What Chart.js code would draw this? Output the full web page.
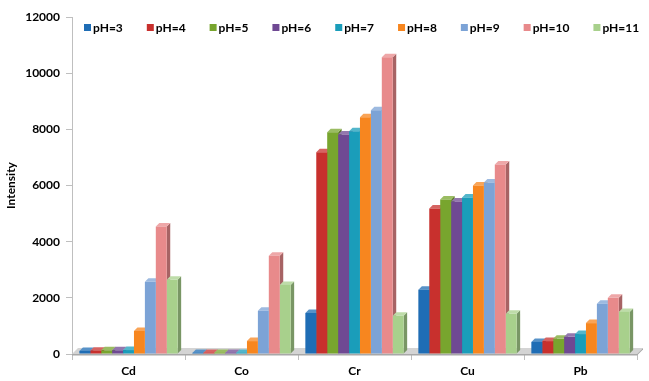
<!DOCTYPE html>
<html>
<head>
<meta charset="utf-8">
<script src="https://cdn.jsdelivr.net/npm/chart.js@4.4.0/dist/chart.umd.min.js"></script>
<style>
  body { margin: 0; background: #fff; }
  #contenedor { width: 649px; height: 381px; }
</style>
</head>
<body>
<div id="contenedor"><canvas id="grafica" width="649" height="381"></canvas></div>
<script>
// Metales (categorias del eje x)
var metales = ['Cd', 'Co', 'Cr', 'Cu', 'Pb'];
// Etiquetas de las series
var etiquetasPH = ['pH=3', 'pH=4', 'pH=5', 'pH=6', 'pH=7', 'pH=8', 'pH=9', 'pH=10', 'pH=11'];
// Intensidad por metal para cada pH
var ph3 = [110, 40, 1460, 2290, 430];
var ph4 = [120, 40, 7180, 5180, 460];
var ph5 = [130, 40, 7900, 5500, 540];
var ph6 = [130, 40, 7820, 5430, 610];
var ph7 = [140, 40, 7930, 5570, 710];
var ph8 = [820, 460, 8430, 6000, 1100];
var ph9 = [2570, 1540, 8680, 6110, 1790];
var ph10 = [4540, 3500, 10570, 6750, 2000];
var ph11 = [2640, 2460, 1360, 1430, 1500];
// Marcas del eje y
var marcasY = [0, 2000, 4000, 6000, 8000, 10000, 12000];

var series = [ph3, ph4, ph5, ph6, ph7, ph8, ph9, ph10, ph11];
var colores = ['#1f6db5', '#c8302d', '#78a52e', '#6f4993', '#1a9dba', '#f7861f', '#7ca3d6', '#e88a8b', '#a8d08c'];
var fuente = 'Lato, "Open Sans", sans-serif';

// oscurece o aclara un color hex
function tono(hex, f) {
  var r = parseInt(hex.substr(1, 2), 16), g = parseInt(hex.substr(3, 2), 16), b = parseInt(hex.substr(5, 2), 16);
  function c(v) { return Math.max(0, Math.min(255, Math.round(f < 1 ? v * f : v + (255 - v) * (f - 1)))); }
  return 'rgb(' + c(r) + ',' + c(g) + ',' + c(b) + ')';
}

// Piso gris y caras laterales/superiores de las barras (efecto 3D)
var efecto3D = {
  id: 'efecto3D',
  beforeDatasetsDraw: function(chart) {
    var ctx = chart.ctx;
    var ejeX = chart.scales.x, ejeY = chart.scales.y;
    var y0 = ejeY.getPixelForValue(0);
    var d = 6;
    ctx.save();
    ctx.fillStyle = '#d4d4d4';
    ctx.beginPath();
    ctx.moveTo(ejeX.left, y0);
    ctx.lineTo(ejeX.left + d, y0 - d);
    ctx.lineTo(ejeX.right + d, y0 - d);
    ctx.lineTo(ejeX.right, y0);
    ctx.closePath();
    ctx.fill();
    ctx.fillStyle = '#a8a8a8';
    ctx.fillRect(ejeX.left, y0, ejeX.right - ejeX.left, 1.5);
    ctx.beginPath();
    ctx.moveTo(ejeX.right, y0 + 1.5);
    ctx.lineTo(ejeX.right, y0);
    ctx.lineTo(ejeX.right + d, y0 - d);
    ctx.lineTo(ejeX.right + d, y0 - d + 1.5);
    ctx.closePath();
    ctx.fill();

    var p = 3.5;
    chart.data.datasets.forEach(function(ds, i) {
      var meta = chart.getDatasetMeta(i);
      meta.data.forEach(function(bar) {
        var b = bar.getProps(['x', 'y', 'base', 'width'], true);
        var izq = b.x - b.width / 2, der = b.x + b.width / 2;
        ctx.fillStyle = tono(ds.backgroundColor, 0.72);
        ctx.beginPath();
        ctx.moveTo(der, b.y);
        ctx.lineTo(der + p, b.y - p);
        ctx.lineTo(der + p, b.base - p);
        ctx.lineTo(der, b.base);
        ctx.closePath();
        ctx.fill();
        ctx.fillStyle = tono(ds.backgroundColor, 1.25);
        ctx.beginPath();
        ctx.moveTo(izq, b.y);
        ctx.lineTo(izq + p, b.y - p);
        ctx.lineTo(der + p, b.y - p);
        ctx.lineTo(der, b.y);
        ctx.closePath();
        ctx.fill();
      });
    });
    ctx.restore();
  }
};

// Leyenda en una fila dentro del area del grafico
var leyenda = {
  id: 'leyenda',
  afterDraw: function(chart) {
    var ctx = chart.ctx;
    ctx.save();
    ctx.font = 'bold 12px ' + fuente;
    ctx.textBaseline = 'middle';
    var x = 84, y = 28;
    chart.data.datasets.forEach(function(ds) {
      ctx.fillStyle = ds.backgroundColor;
      ctx.fillRect(x, y - 4, 7, 7);
      ctx.fillStyle = '#000';
      ctx.fillText(ds.label, x + 9, y);
      x += 9 + ctx.measureText(ds.label).width + 24;
    });
    ctx.restore();
  }
};

var datasets = series.map(function(valores, i) {
  return {
    label: etiquetasPH[i],
    data: valores,
    backgroundColor: colores[i],
    borderWidth: 0
  };
});

new Chart(document.getElementById('grafica').getContext('2d'), {
  type: 'bar',
  data: { labels: metales, datasets: datasets },
  options: {
    responsive: false,
    animation: false,
    layout: { padding: { left: 4, right: 12, top: 17, bottom: 0 } },
    datasets: { bar: { categoryPercentage: 0.87, barPercentage: 1.0 } },
    plugins: { legend: { display: false }, tooltip: { enabled: false } },
    scales: {
      x: {
        grid: { drawOnChartArea: false, drawTicks: true, tickLength: 6, color: '#bfbfbf', offset: true },
        border: { display: false },
        ticks: { color: '#000', padding: 4, font: { family: fuente, size: 12, weight: 'bold' } },
        afterFit: function(eje) { eje.height = 27; }
      },
      y: {
        min: 0,
        max: 12000,
        afterBuildTicks: function(eje) { eje.ticks = marcasY.map(function(v) { return { value: v }; }); },
        grid: { drawOnChartArea: false, drawTicks: true, tickLength: 6, color: '#bfbfbf' },
        border: { display: true, color: '#bfbfbf' },
        ticks: {
          color: '#000',
          padding: 6,
          font: { family: fuente, size: 12, weight: 'bold' },
          callback: function(valor) { return String(valor); }
        },
        title: {
          display: true,
          text: 'Intensity',
          color: '#000',
          font: { family: fuente, size: 12, weight: 'bold' },
          padding: { top: 0, bottom: 3 }
        },
        afterFit: function(eje) { eje.width = 68; }
      }
    }
  },
  plugins: [efecto3D, leyenda]
});
</script>
</body>
</html>
